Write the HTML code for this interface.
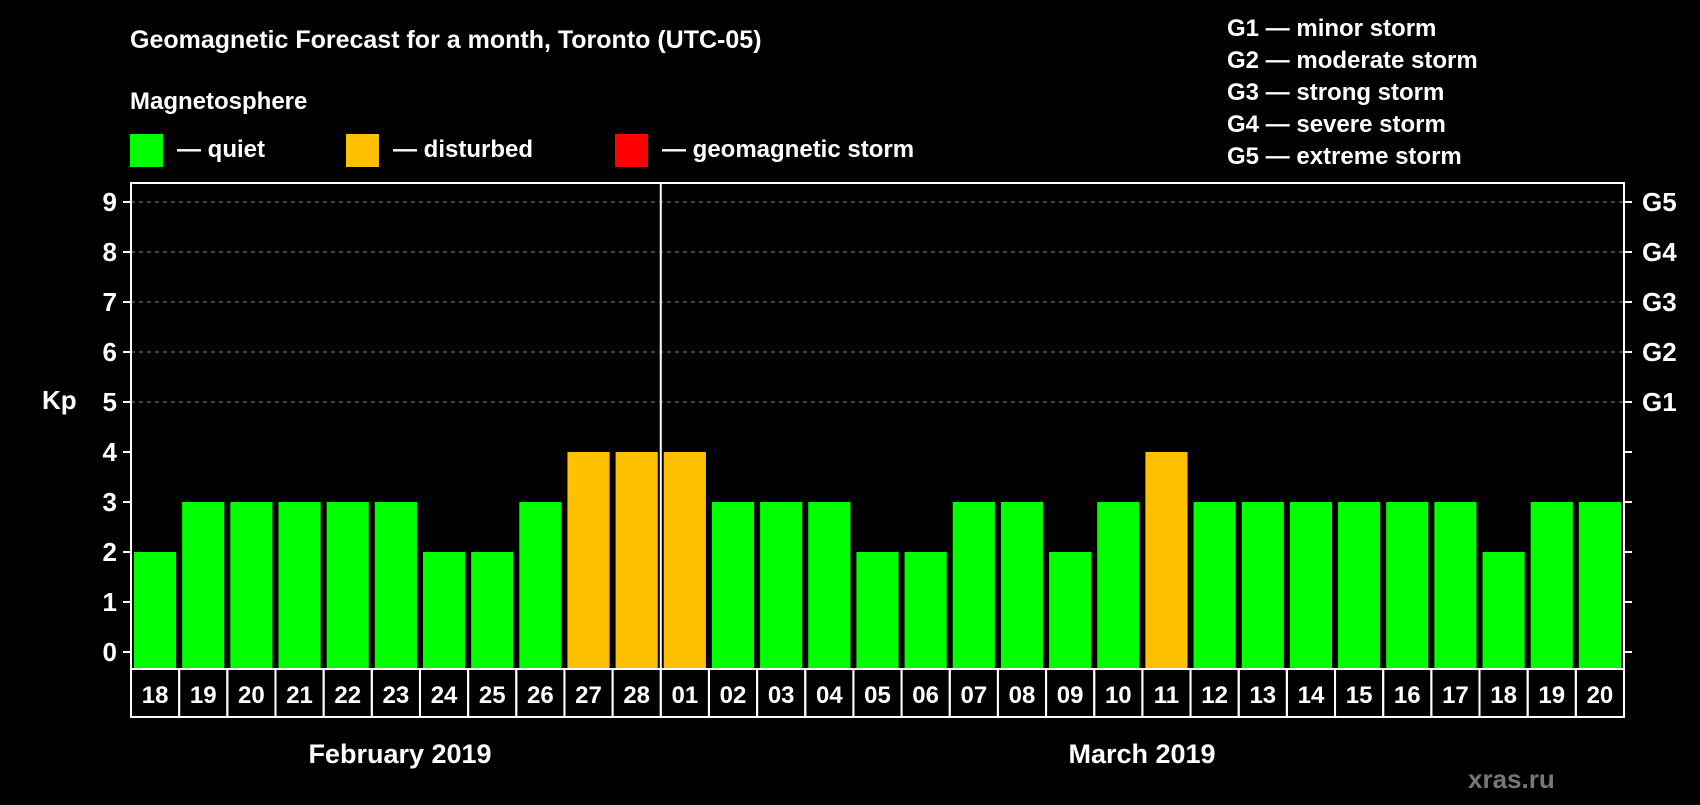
<!DOCTYPE html>
<html><head><meta charset="utf-8"><style>
body{margin:0;background:#000;width:1700px;height:800px;overflow:hidden}
svg text{font-family:"Liberation Sans",Arial,sans-serif;font-weight:bold;fill:#fff}
</style></head><body>
<svg id="c" width="1700" height="800">
<text x="130" y="48" font-size="25">Geomagnetic Forecast for a month, Toronto (UTC-05)</text>
<text x="130" y="109" font-size="24">Magnetosphere</text>
<rect x="130" y="134" width="33" height="33" fill="#00ff00"/>
<text x="177" y="157" font-size="24">— quiet</text>
<rect x="346" y="134" width="33" height="33" fill="#ffc000"/>
<text x="393" y="157" font-size="24">— disturbed</text>
<rect x="615" y="134" width="33" height="33" fill="#ff0000"/>
<text x="662" y="157" font-size="24">— geomagnetic storm</text>
<g font-size="24">
<text x="1227" y="36">G1 — minor storm</text>
<text x="1227" y="68">G2 — moderate storm</text>
<text x="1227" y="100">G3 — strong storm</text>
<text x="1227" y="132">G4 — severe storm</text>
<text x="1227" y="164">G5 — extreme storm</text>
</g>
<text x="42" y="409" font-size="26">Kp</text>
<text x="1468" y="788" font-size="26" style="fill:#777">xras.ru</text>
<text x="400" y="763" font-size="27" text-anchor="middle">February 2019</text>
<text x="1142" y="763" font-size="27" text-anchor="middle">March 2019</text>
<g id="plot"></g>
</svg>
<script>
const days=["18","19","20","21","22","23","24","25","26","27","28","01","02","03","04","05","06","07","08","09","10","11","12","13","14","15","16","17","18","19","20"];
const kp=[2,3,3,3,3,3,2,2,3,4,4,4,3,3,3,2,2,3,3,2,3,4,3,3,3,3,3,3,2,3,3];
const yTicks=[0,1,2,3,4,5,6,7,8,9];
const gLabels=["G1","G2","G3","G4","G5"];
const L=131,R=1624,T=183,B=669,X0=652,U=50,CB=717;
const cw=(R-L)/days.length;
const y=v=>X0-v*U;
const x=i=>L+i*cw;
const NS="http://www.w3.org/2000/svg";
const g=document.getElementById('plot');
function mk(t,a){const e=document.createElementNS(NS,t);for(const k in a)e.setAttribute(k,a[k]);g.appendChild(e);return e;}
yTicks.forEach(v=>{
 if(v>=5){const l=mk('line',{x1:L,x2:R,y1:y(v),y2:y(v),stroke:'#888','stroke-dasharray':'4,4','stroke-width':1});
 
 }
 const t1=mk('line',{x1:L-8,x2:L,y1:y(v),y2:y(v),stroke:'#fff','stroke-width':2});
 
 
 const t2=mk('line',{x1:R,x2:R+8,y1:y(v),y2:y(v),stroke:'#fff','stroke-width':2});
 
 
 const tx=mk('text',{x:L-14,y:y(v)+9,'font-size':26,'text-anchor':'end'});tx.textContent=v;
 
 
});
gLabels.forEach((s,i)=>{const t=mk('text',{x:R+18,y:y(5+i)+9,'font-size':26});t.textContent=s;
 
 });
kp.forEach((v,i)=>{
 const r=mk('rect',{x:x(i)+3,y:y(v),width:cw-6,height:B-y(v),fill:v>=5?'#ff0000':(v>=4?'#ffc000':'#00ff00')});
 
 
 const c=mk('rect',{x:x(i),y:B,width:cw,height:CB-B,fill:'none',stroke:'#fff','stroke-width':2});
 
 
 const t=mk('text',{x:x(i)+cw/2,y:B+34,'font-size':24,'text-anchor':'middle'});t.textContent=days[i];
 
 
});
const fr=mk('rect',{x:L,y:T,width:R-L,height:B-T,fill:'none',stroke:'#fff','stroke-width':2});


const sep=days.indexOf("01");
const sl=mk('line',{x1:x(sep),x2:x(sep),y1:T,y2:B,stroke:'#fff','stroke-width':2});


</script>
</body></html>
